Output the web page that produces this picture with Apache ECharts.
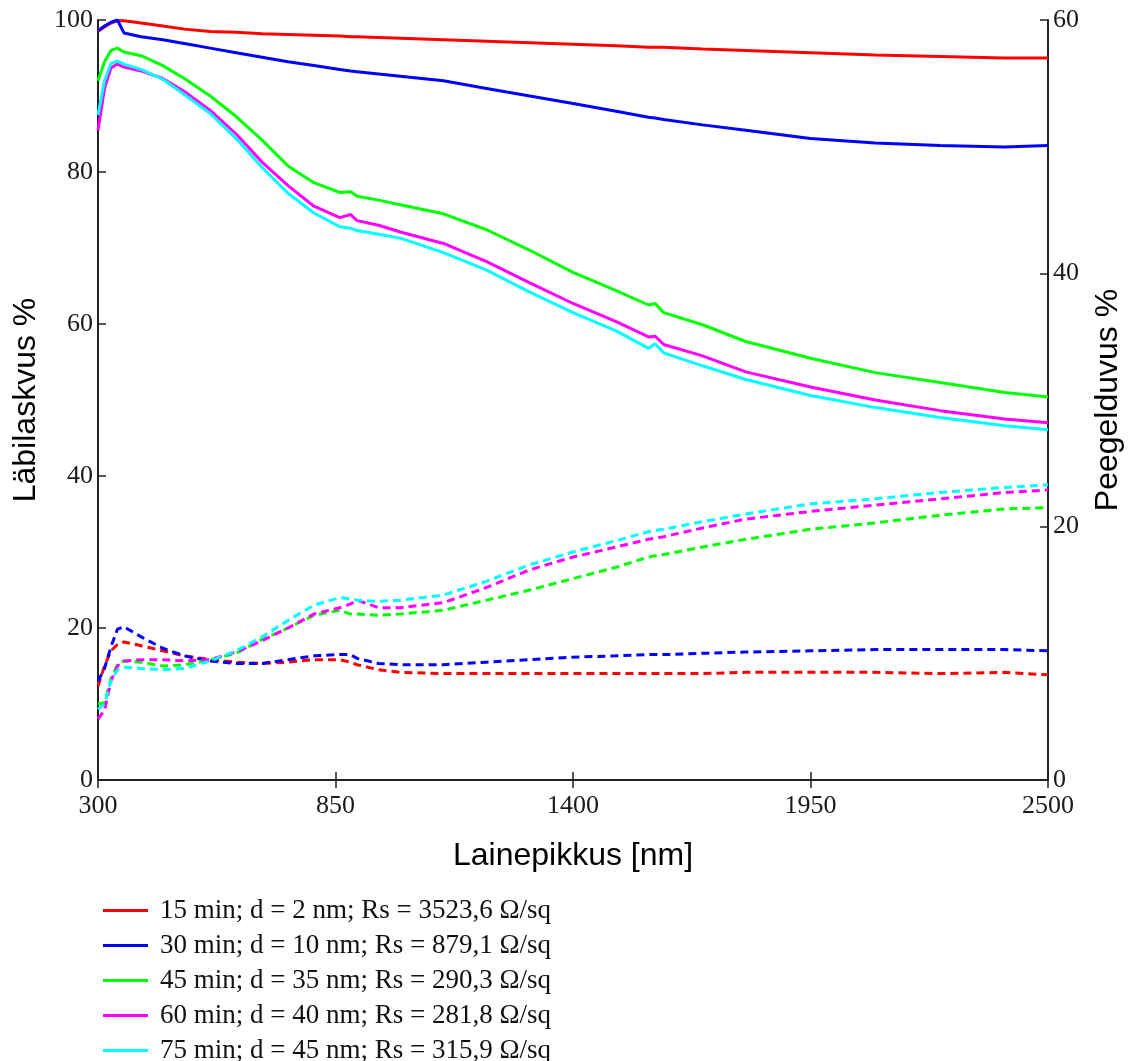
<!DOCTYPE html>
<html>
<head>
<meta charset="utf-8">
<script src="https://cdn.jsdelivr.net/npm/echarts@6/dist/echarts.min.js"></script>
<style>
html,body{margin:0;padding:0;background:#fff;}
#chart{width:1132px;height:1061px;}
</style>
</head>
<body>
<div id="chart"></div>
<script>
// Wavelength (nm)
const wavelength = [300, 315, 330, 345, 360, 400, 450, 500, 560, 620, 680, 740, 800, 860, 885, 900, 950, 1000, 1100, 1200, 1300, 1400, 1500, 1575, 1590, 1610, 1700, 1800, 1950, 2100, 2250, 2400, 2500];

const xTicks = [300, 850, 1400, 1950, 2500];
const leftTicks = [0, 20, 40, 60, 80, 100];
const rightTicks = [0, 20, 40, 60];

const seriesNames = [
  "15 min; d = 2 nm; Rs = 3523,6 Ω/sq",
  "30 min; d = 10 nm; Rs = 879,1 Ω/sq",
  "45 min; d = 35 nm; Rs = 290,3 Ω/sq",
  "60 min; d = 40 nm; Rs = 281,8 Ω/sq",
  "75 min; d = 45 nm; Rs = 315,9 Ω/sq"
];

// Transmittance (Läbilaskvus %), left axis
const T15 = [98.5, 99.1, 99.6, 99.9, 99.9, 99.6, 99.2, 98.8, 98.5, 98.4, 98.2, 98.1, 98.0, 97.9, 97.8, 97.8, 97.7, 97.6, 97.4, 97.2, 97.0, 96.8, 96.6, 96.4, 96.4, 96.4, 96.2, 96.0, 95.7, 95.4, 95.2, 95.0, 95.0];
const T30 = [98.6, 99.2, 99.7, 100.0, 98.3, 97.8, 97.4, 96.9, 96.3, 95.7, 95.1, 94.5, 94.0, 93.5, 93.3, 93.2, 92.9, 92.6, 92.0, 91.0, 90.0, 89.0, 88.0, 87.2, 87.1, 86.9, 86.2, 85.5, 84.4, 83.8, 83.5, 83.3, 83.5];
const T45 = [92.0, 94.5, 96.0, 96.3, 95.8, 95.3, 94.0, 92.3, 90.0, 87.3, 84.2, 80.8, 78.6, 77.3, 77.4, 76.8, 76.3, 75.7, 74.5, 72.4, 69.7, 66.8, 64.4, 62.5, 62.7, 61.5, 59.9, 57.7, 55.5, 53.6, 52.3, 51.0, 50.4];
const T60 = [85.5, 91.0, 93.7, 94.2, 93.8, 93.3, 92.3, 90.6, 88.1, 85.0, 81.3, 78.2, 75.5, 74.0, 74.4, 73.6, 73.0, 72.1, 70.6, 68.2, 65.4, 62.7, 60.3, 58.3, 58.4, 57.3, 55.8, 53.7, 51.7, 50.0, 48.6, 47.5, 47.0];
const T75 = [87.5, 92.0, 94.3, 94.6, 94.2, 93.5, 92.2, 90.2, 87.7, 84.4, 80.6, 77.2, 74.6, 72.8, 72.6, 72.3, 71.8, 71.3, 69.4, 67.1, 64.2, 61.5, 59.1, 56.8, 57.4, 56.2, 54.5, 52.7, 50.6, 49.0, 47.7, 46.6, 46.1];

// Reflectance (Peegelduvus %), right axis
const R15 = [7.4, 9.0, 10.2, 10.7, 10.9, 10.6, 10.2, 9.8, 9.5, 9.3, 9.2, 9.3, 9.5, 9.5, 9.3, 9.1, 8.7, 8.5, 8.4, 8.4, 8.4, 8.4, 8.4, 8.4, 8.4, 8.4, 8.4, 8.5, 8.5, 8.5, 8.4, 8.5, 8.3];
const R30 = [7.8, 8.8, 10.5, 11.9, 12.1, 11.3, 10.4, 9.8, 9.4, 9.2, 9.2, 9.5, 9.8, 9.9, 9.9, 9.6, 9.2, 9.1, 9.1, 9.3, 9.5, 9.7, 9.8, 9.9, 9.9, 9.9, 10.0, 10.1, 10.2, 10.3, 10.3, 10.3, 10.2];
const R45 = [6.0, 6.1, 8.0, 9.1, 9.4, 9.3, 9.0, 9.1, 9.5, 10.0, 11.1, 12.0, 13.0, 13.4, 13.1, 13.1, 13.0, 13.1, 13.4, 14.2, 15.0, 15.9, 16.8, 17.6, 17.7, 17.8, 18.4, 19.0, 19.8, 20.3, 20.9, 21.4, 21.5];
const R60 = [4.8, 5.5, 7.8, 9.0, 9.4, 9.5, 9.5, 9.4, 9.5, 10.1, 11.0, 12.0, 13.1, 13.6, 13.9, 14.2, 13.6, 13.6, 14.0, 15.2, 16.6, 17.6, 18.4, 19.0, 19.1, 19.2, 19.9, 20.6, 21.2, 21.7, 22.2, 22.7, 22.9];
const R75 = [5.6, 6.0, 7.8, 8.7, 8.9, 8.8, 8.7, 8.8, 9.4, 10.2, 11.3, 12.6, 13.8, 14.4, 14.3, 14.2, 14.1, 14.2, 14.6, 15.7, 17.0, 18.0, 18.9, 19.6, 19.7, 19.8, 20.4, 21.0, 21.8, 22.2, 22.7, 23.1, 23.3];

const colors = ["#ff0000", "#0000ff", "#00ff00", "#ff00ff", "#00ffff"];
const Tdata = [T15, T30, T45, T60, T75];
const Rdata = [R15, R30, R45, R60, R75];

function pairs(ys) { return wavelength.map((x, i) => [x, ys[i]]); }

const series = [];
Rdata.forEach((d, i) => {
  series.push({
    name: "R " + seriesNames[i],
    type: "line", xAxisIndex: 0, yAxisIndex: 1,
    data: pairs(d), showSymbol: false, symbol: "none",
    lineStyle: { color: colors[i], width: 3, type: [8, 5] },
    itemStyle: { color: colors[i] }, z: 2
  });
});
Tdata.forEach((d, i) => {
  series.push({
    name: seriesNames[i],
    type: "line", xAxisIndex: 0, yAxisIndex: 0,
    data: pairs(d), showSymbol: false, symbol: "none",
    lineStyle: { color: colors[i], width: 3 },
    itemStyle: { color: colors[i] }, z: 3
  });
});

const plain = v => String(v);
const tickFont = { fontFamily: "Liberation Serif", fontSize: 26, color: "#1a1a1a", formatter: plain };
const titleFont = { fontFamily: "Liberation Sans", fontSize: 32, color: "#000" };
const axisLine = { show: true, lineStyle: { color: "#222", width: 2 } };
const axisTick = { show: true, inside: true, length: 8, lineStyle: { color: "#222", width: 1.5 } };

const chart = echarts.init(document.getElementById("chart"), null, { renderer: "canvas" });
chart.setOption({
  animation: false,
  backgroundColor: "#fff",
  grid: { left: 98, right: 82, top: 20, bottom: 281, containLabel: false },
  legend: {
    data: seriesNames,
    orient: "vertical",
    left: 103, top: 897, height: 220, padding: 0,
    icon: "rect", itemWidth: 45, itemHeight: 3, itemGap: 8,
    textStyle: { fontFamily: "Liberation Serif", fontSize: 27, color: "#111", padding: [0, 0, 0, 7] }
  },
  xAxis: [{
    type: "value", position: "bottom", min: xTicks[0], max: xTicks[xTicks.length - 1], interval: xTicks[1] - xTicks[0],
    name: "Lainepikkus [nm]", nameLocation: "middle", nameGap: 76,
    nameTextStyle: Object.assign({ verticalAlign: "middle" }, titleFont),
    axisLine: axisLine, axisTick: axisTick,
    axisLabel: Object.assign({ margin: 13 }, tickFont),
    splitLine: { show: false }
  }, {
    type: "value", position: "top", min: xTicks[0], max: xTicks[xTicks.length - 1], interval: xTicks[1] - xTicks[0],
    axisLine: axisLine, axisTick: axisTick, axisLabel: { show: false }, splitLine: { show: false }
  }],
  yAxis: [{
    type: "value", position: "left", min: leftTicks[0], max: leftTicks[leftTicks.length - 1], interval: leftTicks[1] - leftTicks[0],
    name: "Läbilaskvus %", nameLocation: "middle", nameGap: 72, nameRotate: 90,
    nameTextStyle: Object.assign({ verticalAlign: "middle" }, titleFont),
    axisLine: axisLine, axisTick: axisTick,
    axisLabel: Object.assign({ margin: 5 }, tickFont),
    splitLine: { show: false }
  }, {
    type: "value", position: "right", min: rightTicks[0], max: rightTicks[rightTicks.length - 1], interval: rightTicks[1] - rightTicks[0],
    name: "Peegelduvus %", nameLocation: "middle", nameGap: 60, nameRotate: 90,
    nameTextStyle: Object.assign({ verticalAlign: "middle" }, titleFont),
    axisLine: axisLine, axisTick: axisTick,
    axisLabel: Object.assign({ margin: 5 }, tickFont),
    splitLine: { show: false }
  }],
  series: series
});
</script>
</body>
</html>
